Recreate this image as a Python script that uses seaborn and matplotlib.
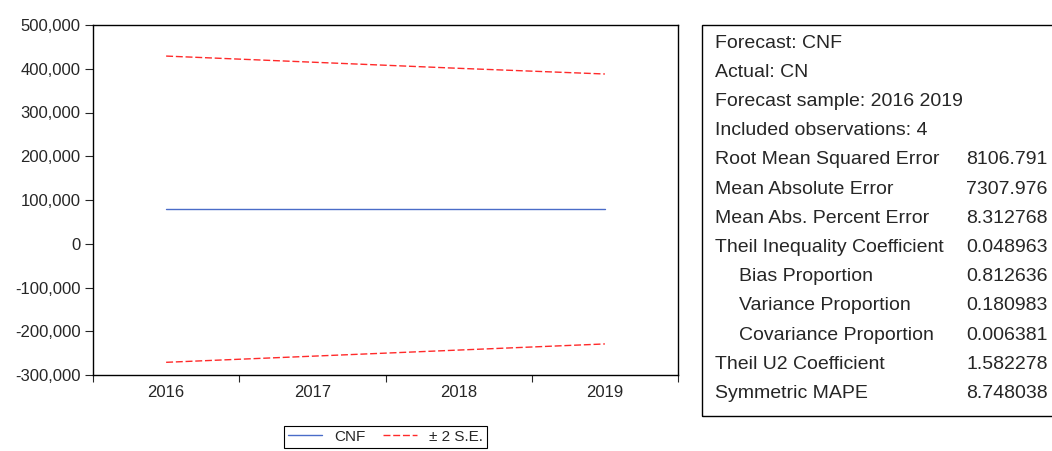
import numpy as np
import pandas as pd
import matplotlib.pyplot as plt
import seaborn as sns
from matplotlib.patches import Rectangle
from matplotlib.ticker import FuncFormatter

# ── data ─────────────────────────────────────────────────────────────────────
years = ["2016", "2017", "2018", "2019"]
cnf = [79000, 79000, 79000, 79000]
upper = [429000, 415000, 401000, 388000]
lower = [-271000, -257000, -243000, -229000]

stat_labels = [
    "Forecast: CNF", "Actual: CN", "Forecast sample: 2016 2019",
    "Included observations: 4", "Root Mean Squared Error",
    "Mean Absolute Error", "Mean Abs. Percent Error",
    "Theil Inequality Coefficient", "   Bias Proportion",
    "   Variance Proportion", "   Covariance Proportion",
    "Theil U2 Coefficient", "Symmetric MAPE",
]
stat_values = ["", "", "", "", "8106.791", "7307.976", "8.312768", "0.048963",
               "0.812636", "0.180983", "0.006381", "1.582278", "8.748038"]

# ── style ────────────────────────────────────────────────────────────────────
sns.set_style("ticks")
plt.rcParams["font.family"] = ["Liberation Sans", "DejaVu Sans"]

df = pd.DataFrame({"x": np.arange(len(years)), "cnf": cnf,
                   "upper": upper, "lower": lower})

fig = plt.figure(figsize=(10.52, 4.51), dpi=100)
ax = fig.add_axes([93 / 1052, 1 - 375 / 451, 585 / 1052, 350 / 451])

sns.lineplot(data=df, x="x", y="cnf", ax=ax, color="#4a6cc8", lw=1.0,
             label="CNF")
sns.lineplot(data=df, x="x", y="upper", ax=ax, color="#ff2a2a", lw=1.0,
             linestyle=(0, (5, 2)), label="± 2 S.E.")
sns.lineplot(data=df, x="x", y="lower", ax=ax, color="#ff2a2a", lw=1.0,
             linestyle=(0, (5, 2)))

ax.set_xlim(-0.5, len(years) - 0.5)
ax.set_ylim(-300000, 500000)
ax.set_xticks(np.arange(-0.5, len(years)))
ax.set_xticklabels([])
ax.set_xticks(np.arange(len(years)), minor=True)
ax.set_xticklabels(years, minor=True)
ax.tick_params(axis="x", which="major", length=5, width=0.8, direction="out")
ax.tick_params(axis="x", which="minor", length=0, labelsize=12, pad=7)
ax.set_yticks(np.arange(-300000, 500001, 100000))
ax.yaxis.set_major_formatter(FuncFormatter(lambda v, p: f"{int(v):,}"))
ax.tick_params(axis="y", length=6, width=0.8, labelsize=12, pad=3)
ax.set_xlabel("")
ax.set_ylabel("")
for s in ax.spines.values():
    s.set_visible(True)
    s.set_linewidth(1.0)
    s.set_color("black")

handles, labels = ax.get_legend_handles_labels()
ax.get_legend().remove()
leg = fig.legend(handles, labels, loc="upper center", ncol=2,
                 bbox_to_anchor=(385.5 / 1052, 1 - 426 / 451), frameon=True,
                 fancybox=False, edgecolor="black", fontsize=11,
                 handlelength=2.2, columnspacing=1.2, borderpad=0.25,
                 borderaxespad=0, framealpha=1)
leg.get_frame().set_linewidth(0.8)

# ── stats box ────────────────────────────────────────────────────────────────
box = Rectangle((702 / 1052, 1 - 416 / 451), 0.6, 391 / 451,
                transform=fig.transFigure, fill=False, edgecolor="black",
                linewidth=1.0)
fig.patches.append(box)
row_y0, row_dy = 43, 29.2
for i, (lab, val) in enumerate(zip(stat_labels, stat_values)):
    y = 1 - (row_y0 + i * row_dy) / 451
    indent = 24 if lab.startswith("   ") else 0
    fig.text((715 + indent) / 1052, y, lab.strip(), fontsize=14, va="center")
    if val:
        fig.text(966 / 1052, y, val, fontsize=14, va="center")

plt.savefig("out.png", dpi=100)
plt.close()
